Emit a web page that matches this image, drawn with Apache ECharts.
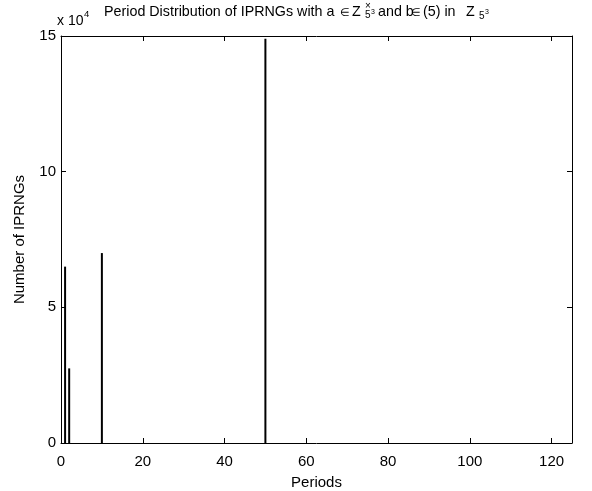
<!DOCTYPE html>
<html>
<head>
<meta charset="utf-8">
<script src="https://cdn.jsdelivr.net/npm/echarts@6/dist/echarts.min.js"></script>
<style>html,body{margin:0;padding:0;background:#fff}#c{width:592px;height:491px}</style>
</head>
<body>
<div id="c"></div>
<script>
const periods = [1, 2, 10, 50];
const counts = [65000, 27500, 70000, 149000];
const xTicks = [0, 20, 40, 60, 80, 100, 120];
const yTicks = [0, 5, 10, 15];

const F = 'Liberation Sans, Arial, Helvetica, sans-serif';
const chart = echarts.init(document.getElementById('c'), null, {renderer: 'canvas'});
const axisCommon = {
  axisLine: {show: true, onZero: false, lineStyle: {color: '#000', width: 1}},
  axisTick: {show: true, inside: true, length: 5, lineStyle: {color: '#000'}},
  splitLine: {show: false}
};
// baseline-positioned text
function txt(x, base, text, size) {
  return {type: 'text', x: x, y: base + Math.round(size * 0.21), silent: true,
    style: {text: text, font: size + 'px ' + F, fill: '#000', verticalAlign: 'bottom', align: 'left'}};
}
chart.setOption({
  animation: false,
  backgroundColor: '#fff',
  grid: {left: 61, right: 20, top: 36, bottom: 48, containLabel: false, outerBoundsMode: 'none'},
  xAxis: [
    Object.assign({type: 'value', min: 0, max: 125, interval: 20, position: 'bottom',
      name: 'Periods', nameLocation: 'middle', nameGap: 32,
      nameTextStyle: {fontFamily: F, fontSize: 15, color: '#000'},
      axisLabel: {fontFamily: F, fontSize: 15, color: '#000', margin: 11,
        showMaxLabel: false,
        formatter: v => xTicks.indexOf(v) >= 0 ? String(v) : ''}}, axisCommon),
    Object.assign({type: 'value', min: 0, max: 125, interval: 20, position: 'top',
      axisLabel: {show: false}}, axisCommon)
  ],
  yAxis: [
    Object.assign({type: 'value', min: 0, max: 150000, interval: 50000, position: 'left',
      name: 'Number of IPRNGs', nameLocation: 'middle', nameGap: 34,
      nameTextStyle: {fontFamily: F, fontSize: 15, color: '#000'},
      axisLabel: {fontFamily: F, fontSize: 15, color: '#000', margin: 5,
        formatter: v => String(yTicks[Math.round(v / 50000)])}}, axisCommon),
    Object.assign({type: 'value', min: 0, max: 150000, interval: 50000, position: 'right',
      axisLabel: {show: false}}, axisCommon)
  ],
  series: [{
    type: 'bar',
    barWidth: 2,
    itemStyle: {color: '#000'},
    data: periods.map((p, i) => [p, counts[i]])
  }],
  graphic: [
    txt(104, 16, 'Period Distribution of IPRNGs with a', 14.3),
    txt(340, 16, '\u2208', 11),
    txt(352, 16, 'Z', 14.3),
    txt(365, 9, '\u00d7', 10),
    txt(365, 18, '5', 10),
    txt(371, 15, '3', 7),
    txt(378, 16, 'and b', 14.3),
    txt(411, 16, '\u2208', 11),
    txt(423, 16, '(5) in', 14.3),
    txt(466, 16, 'Z', 14.3),
    txt(479, 19, '5', 10),
    txt(485, 15, '3', 7),
    txt(57, 25, 'x 10', 14),
    txt(84, 17, '4', 9.5)
  ]
});
</script>
</body>
</html>
